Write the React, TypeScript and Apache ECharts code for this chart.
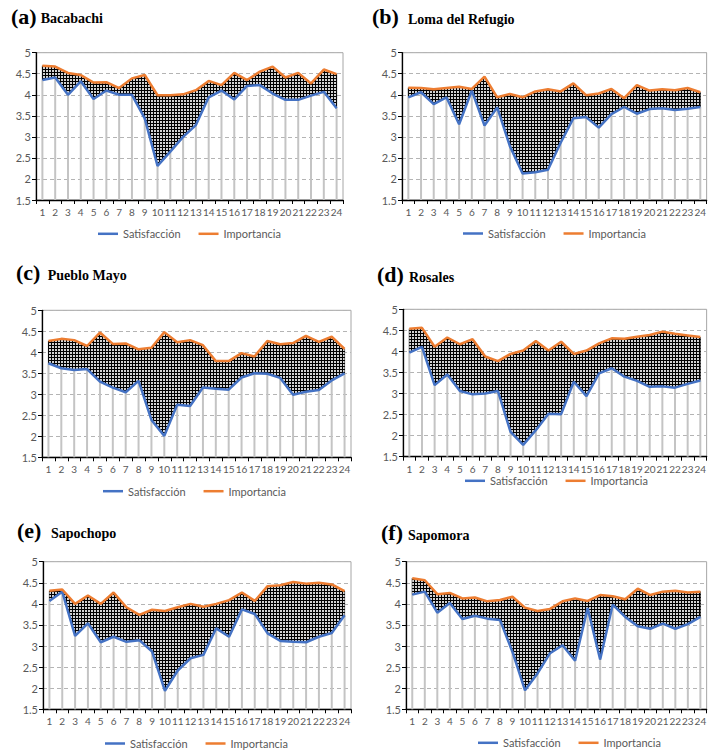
import React, { useEffect, useRef } from "react";
import * as echarts from "echarts";

const CATEGORIES = ["1","2","3","4","5","6","7","8","9","10","11","12","13","14","15","16","17","18","19","20","21","22","23","24"];
const Y_MIN = 1.5;
const Y_MAX = 5;
const Y_STEP = 0.5;

const TITLE_LETTERS = ["(a)", "(b)", "(c)", "(d)", "(e)", "(f)"];
const TITLE_NAMES = ["Bacabachi", "Loma del Refugio", "Pueblo Mayo", "Rosales", "Sapochopo", "Sapomora"];
const LEGEND_NAMES = ["Satisfacción", "Importancia"];

const SAT_A = [4.35,4.41,4.0,4.32,3.9,4.1,4.0,4.0,3.44,2.31,2.65,3.0,3.28,3.94,4.1,3.89,4.21,4.23,4.03,3.88,3.88,3.98,4.07,3.68];
const IMP_A = [4.69,4.67,4.52,4.47,4.29,4.3,4.16,4.39,4.47,3.99,3.99,4.01,4.11,4.33,4.23,4.52,4.35,4.55,4.67,4.41,4.52,4.27,4.6,4.49];
const SAT_B = [3.94,4.06,3.78,3.94,3.3,4.1,3.27,3.7,2.78,2.13,2.16,2.22,2.86,3.44,3.47,3.22,3.54,3.71,3.55,3.66,3.68,3.64,3.67,3.71];
const IMP_B = [4.17,4.16,4.13,4.16,4.19,4.14,4.43,3.94,4.02,3.94,4.08,4.13,4.08,4.27,3.99,4.03,4.14,3.92,4.23,4.1,4.13,4.11,4.16,4.06];
const SAT_C = [3.74,3.62,3.58,3.6,3.3,3.16,3.05,3.32,2.39,2.01,2.75,2.72,3.16,3.13,3.11,3.4,3.5,3.49,3.39,2.99,3.06,3.1,3.33,3.5];
const IMP_C = [4.27,4.32,4.29,4.15,4.47,4.2,4.21,4.07,4.11,4.48,4.24,4.29,4.17,3.79,3.79,3.98,3.9,4.27,4.19,4.22,4.39,4.25,4.37,4.08];
const SAT_D = [3.97,4.11,3.2,3.45,3.06,2.98,3.0,3.06,2.09,1.78,2.13,2.52,2.51,3.28,2.94,3.48,3.6,3.4,3.3,3.16,3.17,3.14,3.23,3.31];
const IMP_D = [4.54,4.56,4.11,4.33,4.17,4.29,3.88,3.77,3.94,4.02,4.25,4.02,4.23,3.94,4.02,4.19,4.31,4.3,4.35,4.39,4.47,4.42,4.38,4.34];
const SAT_E = [4.07,4.29,3.24,3.54,3.09,3.22,3.1,3.14,2.87,1.94,2.42,2.71,2.79,3.42,3.22,3.87,3.76,3.3,3.12,3.1,3.09,3.22,3.31,3.73];
const IMP_E = [4.31,4.34,4.0,4.2,4.0,4.27,3.92,3.74,3.86,3.83,3.92,4.0,3.93,4.0,4.09,4.27,4.07,4.42,4.44,4.52,4.48,4.5,4.46,4.3];
const SAT_F = [4.22,4.29,3.79,4.02,3.64,3.72,3.65,3.62,2.86,1.95,2.35,2.83,3.02,2.65,3.9,2.68,3.98,3.69,3.47,3.41,3.53,3.41,3.52,3.69];
const IMP_F = [4.61,4.56,4.23,4.26,4.13,4.15,4.06,4.09,4.17,3.91,3.83,3.88,4.06,4.13,4.07,4.21,4.18,4.11,4.36,4.21,4.29,4.31,4.27,4.29];

const SATISFACCION = [SAT_A, SAT_B, SAT_C, SAT_D, SAT_E, SAT_F];
const IMPORTANCIA = [IMP_A, IMP_B, IMP_C, IMP_D, IMP_E, IMP_F];

// layout (pixels)
const GRIDS = [
  { left: 36, top: 52.7, width: 307, height: 147.3 },
  { left: 402, top: 52.7, width: 309, height: 147.3 },
  { left: 42, top: 310.3, width: 309, height: 147 },
  { left: 403, top: 309.3, width: 309, height: 147.4 },
  { left: 43, top: 561.7, width: 308, height: 147.6 },
  { left: 406, top: 561.7, width: 309, height: 147.6 },
];
const LEGEND_POS = [
  { left: 98, cy: 235.3 },
  { left: 463, cy: 235 },
  { left: 103, cy: 492.7 },
  { left: 465, cy: 482.3 },
  { left: 105, cy: 745 },
  { left: 478, cy: 744.3 },
];
const TITLE_POS = [
  { lx: 11, nx: 40.7, base: 23 },
  { lx: 372, nx: 408, base: 23.3 },
  { lx: 16, nx: 47.7, base: 279.3 },
  { lx: 377, nx: 409, base: 281.7 },
  { lx: 17, nx: 51, base: 537.7 },
  { lx: 381, nx: 408, base: 539.3 },
];

const BLUE = "#4472C4";
const ORANGE = "#ED7D31";
const TEXT = "#595959";
const FONT = "Lato, 'Open Sans', sans-serif";
const SERIF = "'Liberation Serif', 'DejaVu Serif', serif";

function makePattern() {
  const c = document.createElement("canvas");
  c.width = 3;
  c.height = 3;
  const ctx = c.getContext("2d")!;
  ctx.fillStyle = "#d2d2d2";
  ctx.fillRect(0, 0, 3, 3);
  ctx.fillStyle = "#000000";
  ctx.fillRect(0, 0, 3, 1);
  ctx.fillRect(0, 0, 1, 3);
  return { image: c, repeat: "repeat", imageWidth: 3, imageHeight: 3 } as any;
}

export default function App() {
  const ref = useRef<HTMLDivElement>(null);
  useEffect(() => {
    if (!ref.current) return;
    const chart = echarts.init(ref.current, null, { renderer: "svg" });
    const pattern = makePattern();

    const grid: any[] = [];
    const xAxis: any[] = [];
    const yAxis: any[] = [];
    const legend: any[] = [];
    const series: any[] = [];
    const graphic: any[] = [];

    for (let i = 0; i < 6; i++) {
      const sat = SATISFACCION[i];
      const imp = IMPORTANCIA[i];
      grid.push({
        ...GRIDS[i],
        show: true,
        borderColor: "#a6a6a6",
        borderWidth: 1,
        backgroundColor: "transparent",
      });
      xAxis.push({
        type: "category",
        gridIndex: i,
        data: CATEGORIES,
        boundaryGap: true,
        axisLine: { lineStyle: { color: "#000", width: 1.3 } },
        axisTick: { show: true, length: 4, lineStyle: { color: "#000" } },
        axisLabel: { interval: 0, fontSize: 10, color: TEXT, margin: 7, fontFamily: FONT },
        splitLine: { show: false },
      });
      yAxis.push({
        type: "value",
        gridIndex: i,
        min: Y_MIN,
        max: Y_MAX,
        interval: Y_STEP,
        axisLine: { show: true, lineStyle: { color: "#000", width: 1.3 } },
        axisTick: { show: true, length: 4, lineStyle: { color: "#000" } },
        axisLabel: { fontSize: 11, color: TEXT, margin: 5, fontFamily: FONT },
        splitLine: { show: true, lineStyle: { type: [4, 3], color: "#b4b4b4", width: 1 } },
      });
      legend.push({
        data: LEGEND_NAMES,
        left: LEGEND_POS[i].left,
        top: LEGEND_POS[i].cy - 7,
        icon: "rect",
        itemWidth: 20,
        itemHeight: 2.5,
        itemGap: 18,
        padding: 0,
        textStyle: { fontSize: 11, color: TEXT, fontFamily: FONT },
      });
      // drop lines
      series.push({
        type: "custom",
        xAxisIndex: i,
        yAxisIndex: i,
        silent: true,
        z: 1,
        data: CATEGORIES.map((c, k) => [k, sat[k], imp[k]]),
        encode: { x: 0, y: [1, 2] },
        renderItem: (params: any, api: any) => {
          const x = api.value(0);
          const s = api.value(1);
          const m = api.value(2);
          const p0 = api.coord([x, Y_MIN]);
          const p1 = api.coord([x, s]);
          const p2 = api.coord([x, m]);
          return {
            type: "group",
            children: [
              {
                type: "line",
                shape: { x1: p0[0], y1: p0[1], x2: p1[0], y2: p1[1] },
                style: { stroke: "#c4c4c4", lineWidth: 2 },
              },
              {
                type: "line",
                shape: { x1: p1[0], y1: p1[1], x2: p2[0], y2: p2[1] },
                style: { stroke: "#000", lineWidth: 1 },
                z2: 10,
              },
            ],
          };
        },
      });
      // stacked band
      series.push({
        type: "line",
        name: "base" + i,
        xAxisIndex: i,
        yAxisIndex: i,
        stack: "band" + i,
        data: sat,
        showSymbol: false,
        symbol: "none",
        silent: true,
        lineStyle: { opacity: 0, width: 0 },
        z: 2,
      });
      series.push({
        type: "line",
        name: "band" + i,
        xAxisIndex: i,
        yAxisIndex: i,
        stack: "band" + i,
        data: imp.map((v, k) => +(v - sat[k]).toFixed(3)),
        showSymbol: false,
        symbol: "none",
        silent: true,
        lineStyle: { opacity: 0, width: 0 },
        areaStyle: { color: pattern, opacity: 1 },
        z: 2,
      });
      series.push({
        type: "line",
        name: LEGEND_NAMES[0],
        xAxisIndex: i,
        yAxisIndex: i,
        data: sat,
        showSymbol: false,
        symbol: "none",
        color: BLUE,
        lineStyle: { color: BLUE, width: 2.5 },
        z: 5,
      });
      series.push({
        type: "line",
        name: LEGEND_NAMES[1],
        xAxisIndex: i,
        yAxisIndex: i,
        data: imp,
        showSymbol: false,
        symbol: "none",
        color: ORANGE,
        lineStyle: { color: ORANGE, width: 2.5 },
        z: 5,
      });
      const tp = TITLE_POS[i];
      graphic.push({
        type: "text",
        x: tp.lx,
        y: tp.base - 0.305 * 22,
        style: {
          text: TITLE_LETTERS[i],
          font: "bold 22px " + SERIF,
          fill: "#000",
          textVerticalAlign: "middle",
          verticalAlign: "middle",
        },
      });
      graphic.push({
        type: "text",
        x: tp.nx,
        y: tp.base - 0.305 * 14,
        style: {
          text: TITLE_NAMES[i],
          font: "bold 14px " + SERIF,
          fill: "#000",
          textVerticalAlign: "middle",
          verticalAlign: "middle",
        },
      });
    }

    chart.setOption({
      animation: false,
      backgroundColor: "#fff",
      grid,
      xAxis,
      yAxis,
      legend,
      series,
      graphic,
    });
    return () => chart.dispose();
  }, []);

  return (
    <div
      ref={ref}
      style={{ position: "absolute", left: 0, top: 0, width: 709, height: 751 }}
    />
  );
}
